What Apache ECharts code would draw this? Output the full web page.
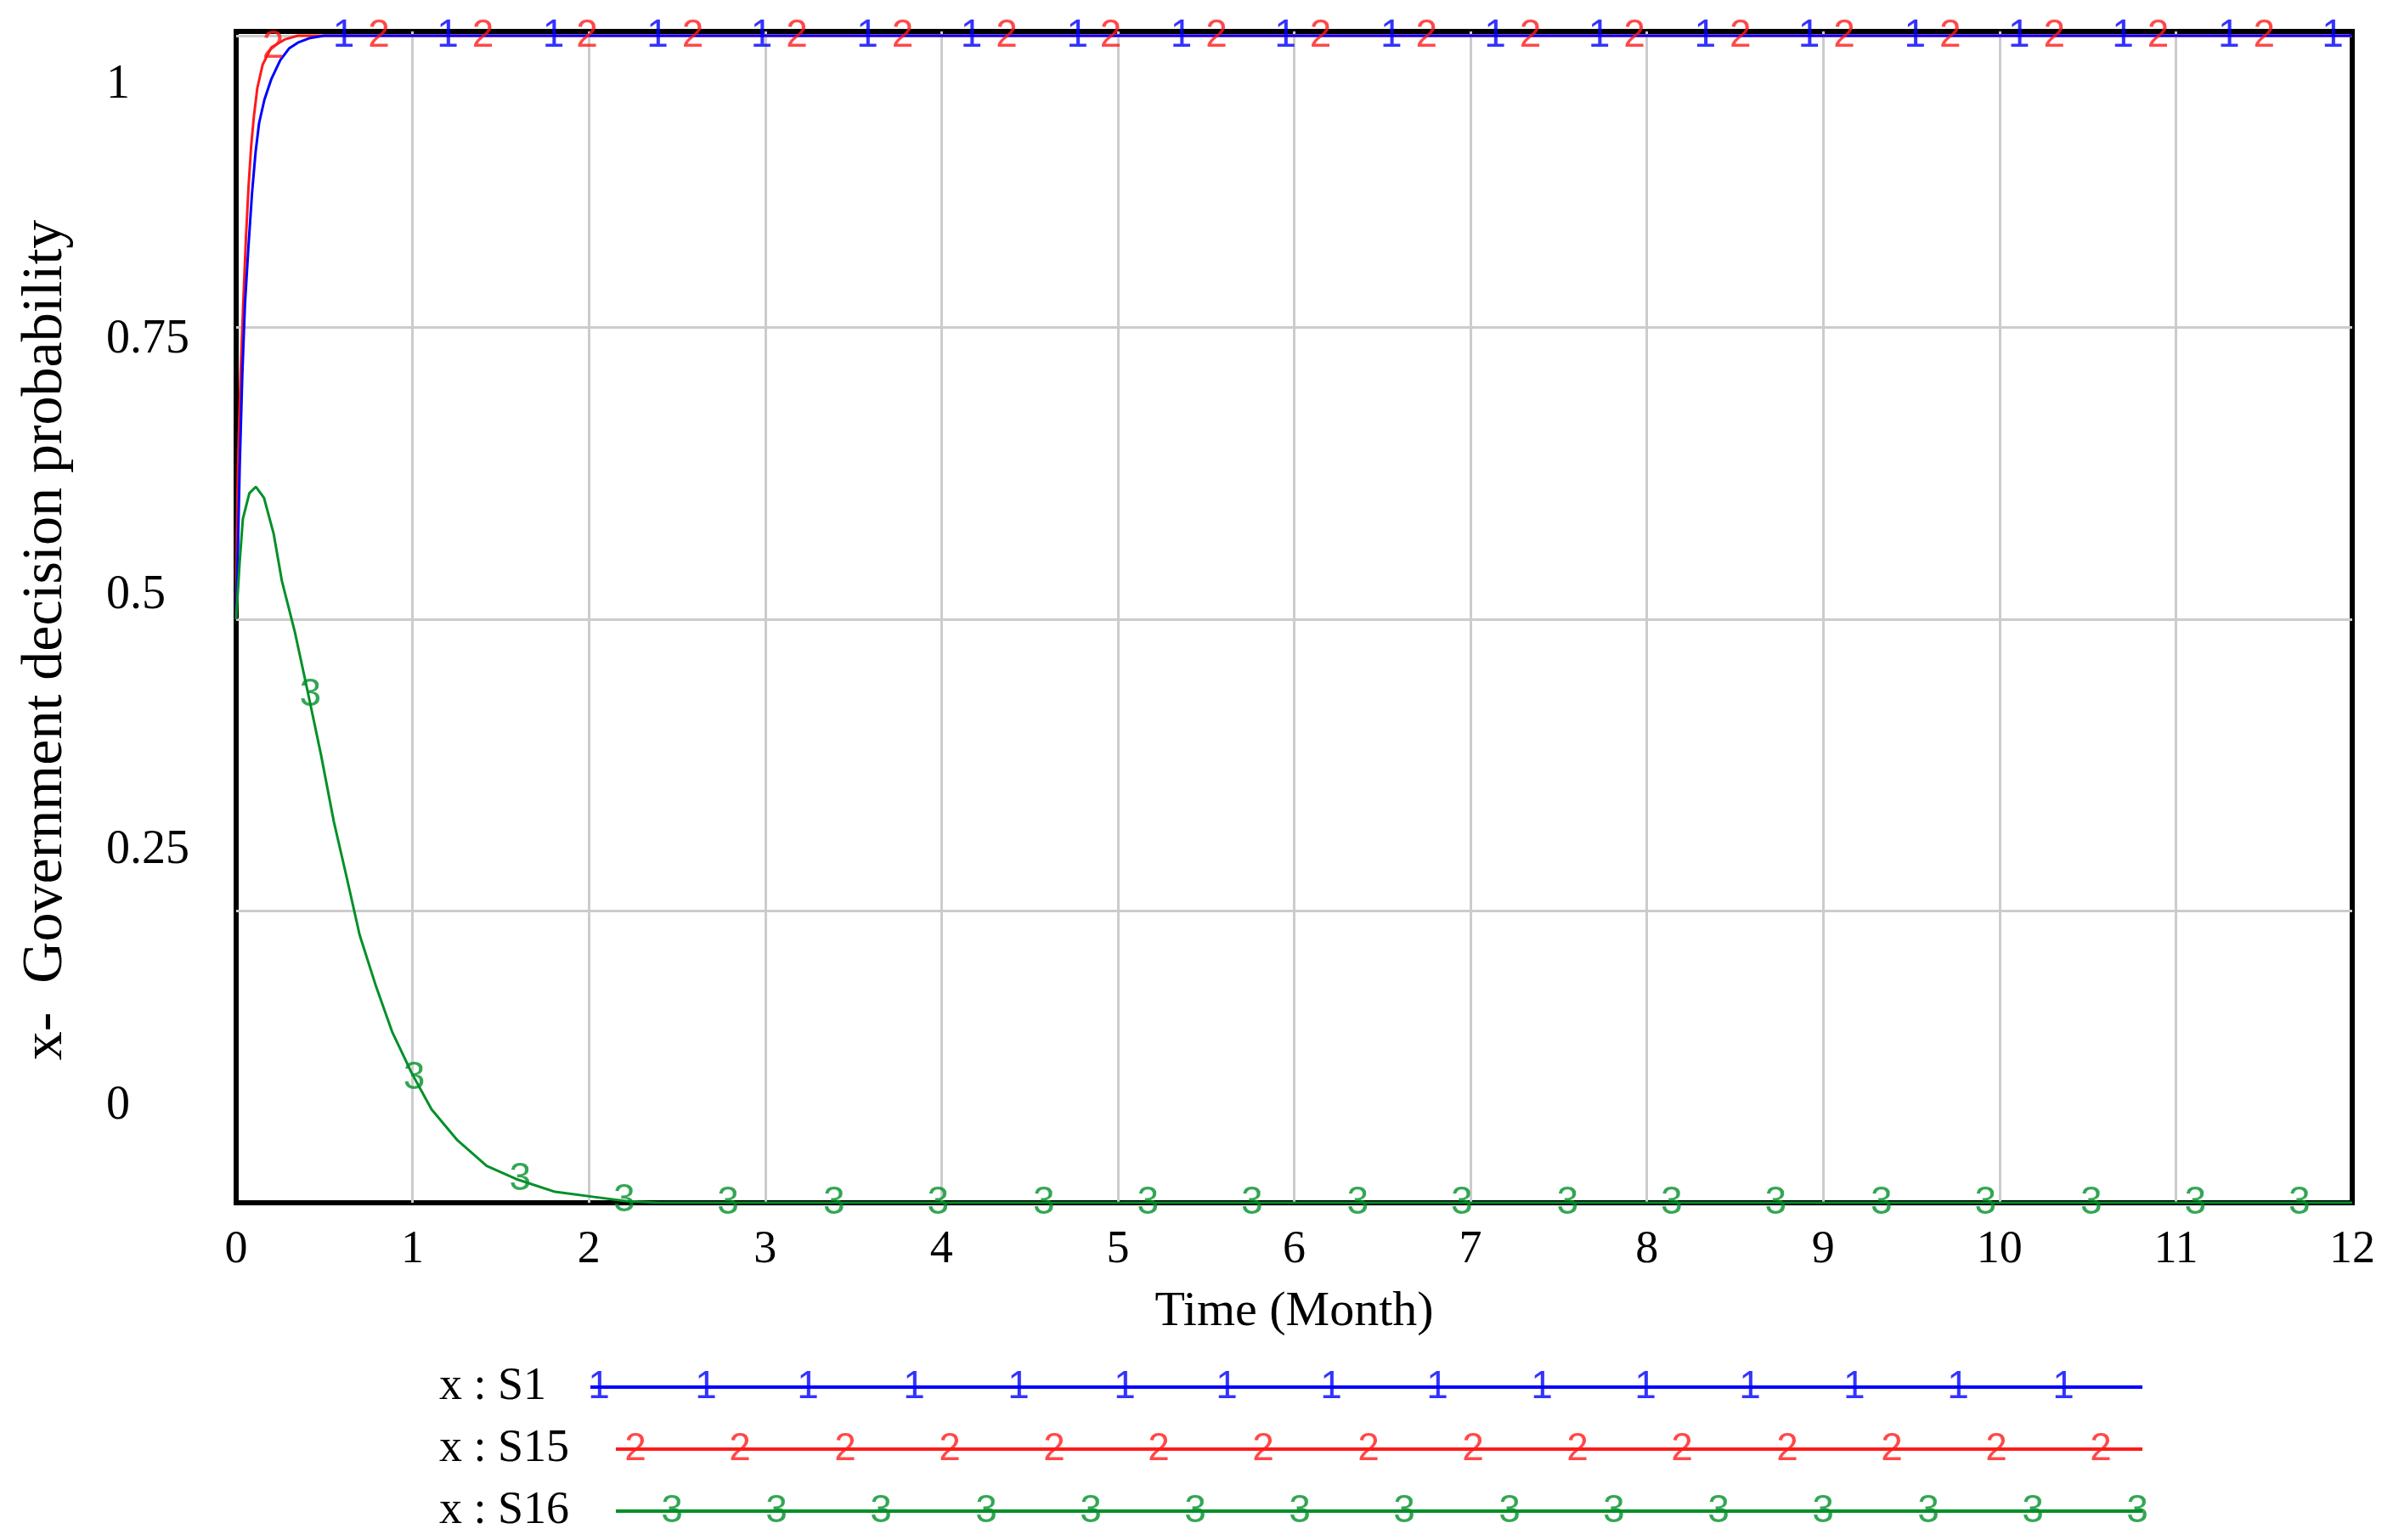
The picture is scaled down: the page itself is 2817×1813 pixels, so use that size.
<!DOCTYPE html>
<html><head><meta charset="utf-8">
<script src="https://cdn.jsdelivr.net/npm/echarts@6/dist/echarts.min.js"></script>
<style>html,body{margin:0;padding:0;background:#fff}#c{width:2817px;height:1813px}</style>
</head><body><div id="c"></div>
<script>
// ---- axis ticks ----
const xMin = 0, xMax = 12, xStep = 1;
const yTickValues = [0, 0.25, 0.5, 0.75, 1];
const yTickLabels = ['0', '0.25', '0.5', '0.75', '1'];
const xTitle = 'Time (Month)';
const yTitle = 'x-  Government decision probability';

// ---- series (time in months, value) ----
const s1Time  = [0, 0.01, 0.02, 0.035, 0.05, 0.07, 0.09, 0.11, 0.13, 0.16, 0.2, 0.25, 0.3, 0.35, 0.42, 0.5, 12];
const s1Value = [0.5, 0.56, 0.63, 0.71, 0.77, 0.82, 0.865, 0.9, 0.925, 0.945, 0.963, 0.979, 0.989, 0.994, 0.998, 1, 1];

const s15Time  = [0, 0.005, 0.01, 0.025, 0.04, 0.055, 0.07, 0.085, 0.1, 0.12, 0.15, 0.2, 0.28, 0.35, 12];
const s15Value = [0.5, 0.58, 0.63, 0.71, 0.77, 0.825, 0.87, 0.905, 0.93, 0.955, 0.975, 0.99, 0.997, 1, 1];

const s16Time  = [0, 0.019, 0.038, 0.075, 0.112, 0.158, 0.213, 0.259, 0.333, 0.407, 0.481, 0.554, 0.628, 0.70, 0.793, 0.886, 0.997, 1.108, 1.255, 1.421, 1.587, 1.808, 2.03, 2.21, 2.4, 12];
const s16Value = [0.5, 0.547, 0.586, 0.608, 0.6135, 0.604, 0.573, 0.533, 0.489, 0.437, 0.384, 0.3265, 0.278, 0.2296, 0.1855, 0.146, 0.1107, 0.08, 0.0535, 0.0315, 0.0204, 0.0094, 0.005, 0.0015, 0, 0];

// ---- numbered markers along the curves ----
const s1MarkTime  = [0.61, 1.20, 1.80, 2.39, 2.98, 3.58, 4.17, 4.77, 5.36, 5.95, 6.55, 7.14, 7.73, 8.33, 8.92, 9.52, 10.11, 10.70, 11.30, 11.89];
const s1MarkValue = [1, 1, 1, 1, 1, 1, 1, 1, 1, 1, 1, 1, 1, 1, 1, 1, 1, 1, 1, 1];
const s15MarkTime  = [0.21, 0.81, 1.40, 1.99, 2.59, 3.18, 3.78, 4.37, 4.96, 5.56, 6.15, 6.75, 7.34, 7.93, 8.53, 9.12, 9.72, 10.31, 10.90, 11.50];
const s15MarkValue = [0.99, 1, 1, 1, 1, 1, 1, 1, 1, 1, 1, 1, 1, 1, 1, 1, 1, 1, 1, 1];
const s16MarkTime  = [0.42, 1.01, 1.61, 2.20, 2.79, 3.39, 3.98, 4.58, 5.17, 5.76, 6.36, 6.95, 7.55, 8.14, 8.73, 9.33, 9.92, 10.52, 11.11, 11.70];
const s16MarkValue = [0.435, 0.107, 0.02, 0.002, 0, 0, 0, 0, 0, 0, 0, 0, 0, 0, 0, 0, 0, 0, 0, 0];

// ---- legend rows (position along legend strip, 0..100) ----
const legendNames = ['x : S1', 'x : S15', 'x : S16'];
const legendMarkText = ['1', '2', '3'];
const legendLineStart = [0, 1.64, 1.64];
const legendLineEnd = [100, 100, 100];
const legendMarks1 = [0.55, 7.44, 14.01, 20.85, 27.59, 34.43, 41.0, 47.73, 54.57, 61.3, 67.98, 74.71, 81.44, 88.12, 94.91];
const legendMarks2 = [2.90, 9.63, 16.42, 23.15, 29.89, 36.62, 43.35, 50.14, 56.87, 63.60, 70.33, 77.12, 83.85, 90.59, 97.32];
const legendMarks3 = [5.25, 11.99, 18.72, 25.51, 32.24, 38.97, 45.70, 52.44, 59.22, 65.95, 72.69, 79.42, 86.21, 92.94, 99.67];

const colors = ['#0000ff', '#ff1a1a', '#009028'];
const serif = "'Liberation Serif', 'Times New Roman', serif";
const markFont = "'Liberation Sans Narrow', 'Liberation Sans', sans-serif";

const zip = (a, b) => a.map((v, i) => [v, b[i]]);

function lineSeries(t, v, color) {
  return { type: 'line', xAxisIndex: 0, yAxisIndex: 0, data: zip(t, v), showSymbol: false, symbol: 'none',
    lineStyle: { color: color, width: 3 }, z: 3, silent: true };
}
function markSeries(t, v, color, txt) {
  return { type: 'scatter', xAxisIndex: 0, yAxisIndex: 0, data: zip(t, v), symbolSize: 1,
    itemStyle: { color: 'rgba(0,0,0,0)' }, z: 5, silent: true,
    label: { show: true, position: 'inside', formatter: txt, color: color, fontSize: 46, fontFamily: markFont } };
}
function legendLine(i) {
  return { type: 'line', xAxisIndex: 1, yAxisIndex: 2,
    data: [[legendLineStart[i], legendNames[i]], [legendLineEnd[i], legendNames[i]]],
    showSymbol: false, symbol: 'none', lineStyle: { color: colors[i], width: 4 }, z: 3, silent: true };
}
function legendMarks(i, arr) {
  return { type: 'scatter', xAxisIndex: 1, yAxisIndex: 2, data: arr.map(p => [p, legendNames[i]]), symbolSize: 1,
    itemStyle: { color: 'rgba(0,0,0,0)' }, z: 5, silent: true,
    label: { show: true, position: 'inside', formatter: legendMarkText[i], color: colors[i], fontSize: 46, fontFamily: markFont } };
}

const gridLine = { show: true, showMinLine: false, showMaxLine: false, lineStyle: { color: '#cccccc', width: 3 } };

const option = {
  backgroundColor: '#ffffff',
  animation: false,
  grid: [
    { left: 278, right: 48, top: 37, bottom: 397, show: true, borderColor: '#000000', borderWidth: 6, backgroundColor: 'transparent' },
    { left: 695, right: 295, top: 1633, bottom: 34 }
  ],
  xAxis: [
    { type: 'value', gridIndex: 0, min: xMin, max: xMax, interval: xStep,
      axisLine: { show: false }, axisTick: { show: false }, splitLine: gridLine,
      axisLabel: { color: '#000', fontFamily: serif, fontSize: 54, margin: 29 },
      name: xTitle, nameLocation: 'middle', nameGap: 100,
      nameTextStyle: { color: '#000', fontFamily: serif, fontSize: 58 } },
    { type: 'value', gridIndex: 1, min: 0, max: 100, show: false }
  ],
  yAxis: [
    { type: 'value', gridIndex: 0, min: 0, max: 1.0036, interval: 0.25, position: 'left',
      axisLine: { show: false }, axisTick: { show: false }, axisLabel: { show: false }, splitLine: gridLine,
      name: yTitle, nameLocation: 'middle', nameGap: 190, nameRotate: 90,
      nameTextStyle: { color: '#000', fontFamily: serif, fontSize: 68, padding: [0, 54, 0, 0] } },
    { type: 'value', gridIndex: 0, min: -0.0948, max: 1.0524, position: 'left', offset: 0,
      axisLine: { show: false }, axisTick: { show: false }, splitLine: { show: false },
      axisLabel: { customValues: yTickValues, formatter: v => yTickLabels[yTickValues.indexOf(v)],
        align: 'left', margin: 153, color: '#000', fontFamily: serif, fontSize: 56 } },
    { type: 'category', gridIndex: 1, data: legendNames, inverse: true, boundaryGap: false,
      axisLine: { show: false }, axisTick: { show: false }, splitLine: { show: false },
      axisLabel: { align: 'left', margin: 178, color: '#000', fontFamily: serif, fontSize: 54 } }
  ],
  series: [
    lineSeries(s15Time, s15Value, colors[1]),
    lineSeries(s1Time, s1Value, colors[0]),
    lineSeries(s16Time, s16Value, colors[2]),
    markSeries(s1MarkTime, s1MarkValue, colors[0], '1'),
    markSeries(s15MarkTime, s15MarkValue, colors[1], '2'),
    markSeries(s16MarkTime, s16MarkValue, colors[2], '3'),
    legendLine(0), legendLine(1), legendLine(2),
    legendMarks(0, legendMarks1), legendMarks(1, legendMarks2), legendMarks(2, legendMarks3)
  ]
};

const chart = echarts.init(document.getElementById('c'), null, { renderer: 'canvas' });
chart.setOption(option);
</script>
</body></html>
